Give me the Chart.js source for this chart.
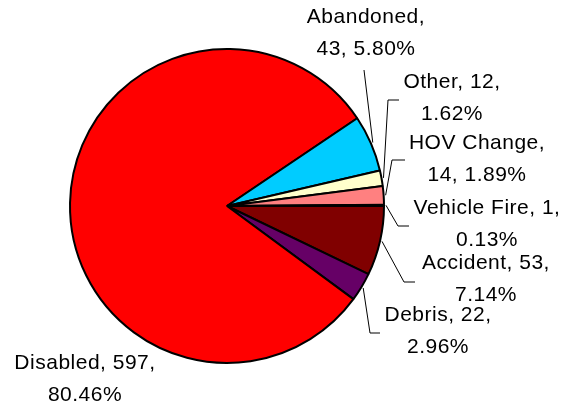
<!DOCTYPE html>
<html>
<head>
<meta charset="utf-8">
<script src="https://cdn.jsdelivr.net/npm/chart.js@4/dist/chart.umd.min.js"></script>
<style>
  html, body { margin: 0; padding: 0; background: #ffffff; }
  #wrap { width: 579px; height: 408px; position: relative; }
</style>
</head>
<body>
<div id="wrap"><canvas id="c" width="579" height="408"></canvas></div>
<script>
// ---- data (clockwise from 3 o'clock) ----
const categories = ["Accident", "Debris", "Disabled", "Abandoned", "Other", "HOV Change", "Vehicle Fire"];
const counts     = [53, 22, 597, 43, 12, 14, 1];
const sliceColors = ["#800000", "#660066", "#FF0000", "#00CCFF", "#FFFFCC", "#FF8080", "#CCCCFF"];
// how many comma-separated parts go on the first text line
const firstLineParts = [2, 2, 2, 1, 2, 1, 2];

// ---- label layout (text block centre x, first line y, leader-line bend points) ----
const labelLayout = [
  { x: 486, y: 263, leader: [[404, 282], [415, 282]] },   // Accident
  { x: 438, y: 315, leader: [[370, 333], [380, 333]] },   // Debris
  { x: 85,  y: 363, leader: null },                       // Disabled
  { x: 366, y: 17,  leader: [[364, 70]] },                // Abandoned
  { x: 452, y: 82,  leader: [[388, 100], [399, 100]] },   // Other
  { x: 477, y: 143, leader: [[392, 160], [405, 160]] },   // HOV Change
  { x: 487, y: 208, leader: [[398, 226], [409, 226]] }    // Vehicle Fire
];

const total = counts.reduce((a, b) => a + b, 0);

const labelPlugin = {
  id: 'pieLabels',
  afterDatasetsDraw(chart) {
    const ctx = chart.ctx;
    const meta = chart.getDatasetMeta(0);
    ctx.save();
    ctx.font = '21px "Liberation Sans", Arial, sans-serif';
    if ('letterSpacing' in ctx) ctx.letterSpacing = '0.5px';
    ctx.fillStyle = '#000';
    ctx.strokeStyle = '#000';
    ctx.lineWidth = 1;
    ctx.textAlign = 'center';
    ctx.textBaseline = 'middle';
    meta.data.forEach((arc, i) => {
      const lay = labelLayout[i];
      const pct = (counts[i] / total * 100).toFixed(2) + '%';
      const parts = [categories[i], String(counts[i]), pct];
      const n = firstLineParts[i];
      const line1 = parts.slice(0, n).join(', ') + ',';
      const line2 = parts.slice(n).join(', ');
      ctx.fillText(line1, lay.x, lay.y);
      ctx.fillText(line2, lay.x, lay.y + 32);
      if (lay.leader) {
        const mid = (arc.startAngle + arc.endAngle) / 2;
        const r = arc.outerRadius + 2;
        ctx.beginPath();
        ctx.moveTo(arc.x + Math.cos(mid) * r, arc.y + Math.sin(mid) * r);
        lay.leader.forEach(p => ctx.lineTo(p[0], p[1]));
        ctx.stroke();
      }
    });
    ctx.restore();
  }
};

new Chart(document.getElementById('c'), {
  type: 'pie',
  data: {
    labels: categories,
    datasets: [{
      data: counts,
      backgroundColor: sliceColors,
      borderColor: '#000000',
      borderWidth: 2
    }]
  },
  options: {
    responsive: false,
    animation: false,
    rotation: 90,
    layout: { padding: { left: 69, right: 194, top: 48, bottom: 44 } },
    plugins: {
      legend: { display: false },
      tooltip: { enabled: false }
    }
  },
  plugins: [labelPlugin]
});
</script>
</body>
</html>
